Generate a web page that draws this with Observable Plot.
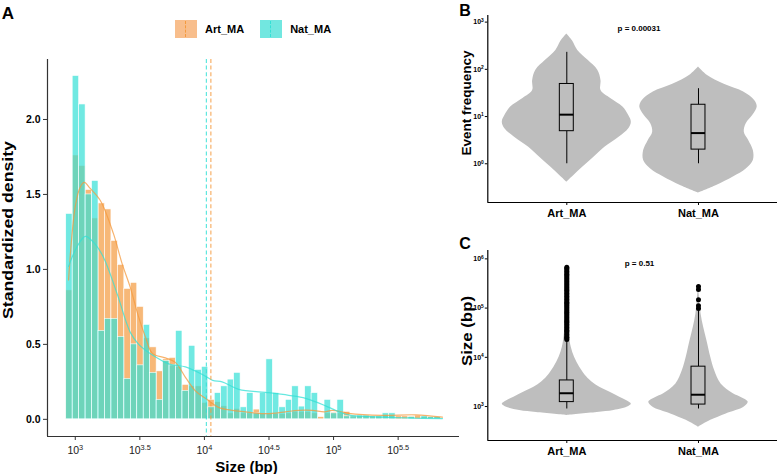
<!DOCTYPE html>
<html><head><meta charset="utf-8">
<script src="https://cdn.jsdelivr.net/npm/d3@7"></script>
<script src="https://cdn.jsdelivr.net/npm/@observablehq/plot@0.6"></script>
<style>
body{margin:0;background:#fff;font-family:"Liberation Sans",Arial,Helvetica,sans-serif;}
#fig{position:relative;width:777px;height:474px;overflow:hidden;background:#fff;}
#fig svg{position:absolute;overflow:visible;}
.lbl{position:absolute;font-weight:bold;color:#000;white-space:nowrap;line-height:1;}
.hc{transform:translate(-50%,-50%);}
#legend{position:absolute;left:175px;top:20px;display:flex;align-items:center;font-weight:bold;font-size:11px;}
.key{width:22px;height:18px;position:relative;margin-right:8px;}
.key i{position:absolute;left:10px;top:1px;height:16px;border-left:1px dashed;}
.item{display:flex;align-items:center;margin-right:16px;}
</style>
</head><body>
<div id="fig"></div>
<script>
// ---------- data ----------
const groups = ["Art_MA", "Nat_MA"];
const fills = ["#F49A3E", "#33E0D6"];
const keyFills = ["#F8BE8C", "#72E7E0"];

// Panel A: histogram (log10 size bins) of standardized density
const binStartLog = 2.93;
const binWidthLog = 0.05;
const artHist = [0.86,1.76,1.69,1.53,1.34,1.44,1.40,1.19,1.03,0.87,
  0.91,0.75,0.54,0.48,0.32,0.40,0.41,0.35,0.23,0.22,
  0.22,0.11,0.13,0.115,0.087,0.04,0.07,0.04,0.04,0.065,
  0.035,0.035,0.035,0.035,0.04,0.05,0.05,0.05,0.04,0.015,
  0.04,0.045,0.04,0.05,0.025,0.025,0.025,0.02,0.02,0.025,
  0.025,0.02,0.02,0.02,0.025,0.015,0.015,0.015];
const natHist = [1.37,2.29,2.10,1.50,1.59,0.59,0.67,0.67,0.55,0.27,
  0.50,0.36,0.63,0.31,0.13,0.39,0.36,0.59,0.19,0.49,
  0.33,0.35,0.08,0.175,0.22,0.265,0.31,0.08,0.175,0.04,
  0.175,0.40,0.175,0.08,0.13,0.22,0.085,0.22,0.175,0,
  0.13,0.04,0.13,0.02,0.02,0.025,0.025,0.02,0.02,0.04,
  0.04,0,0,0.015,0,0.02,0.015,0.015];
const artCurveLog = [2.948,3.000,3.039,3.070,3.116,3.194,3.295,3.362,3.426,3.488,3.543,3.597,3.698,3.775,3.853,3.930,4.008,4.109,4.215,4.318,4.419,4.525,4.628,4.729,4.835,4.930,4.990,5.116,5.378,5.636,5.843];
const artCurveDensity = [0.93,1.42,1.55,1.58,1.54,1.46,1.24,1.04,0.88,0.69,0.55,0.44,0.41,0.38,0.28,0.19,0.14,0.08,0.06,0.05,0.04,0.04,0.05,0.06,0.06,0.05,0.06,0.04,0.027,0.03,0.015];
const natCurveLog = [2.948,3.013,3.078,3.142,3.219,3.323,3.426,3.491,3.595,3.723,3.853,3.982,4.064,4.137,4.266,4.473,4.653,4.783,4.938,4.990,5.116,5.378,5.843];
const natCurveDensity = [1.02,1.15,1.22,1.18,1.08,0.84,0.58,0.50,0.43,0.37,0.35,0.30,0.26,0.25,0.20,0.18,0.16,0.14,0.09,0.07,0.03,0.015,0.005];
const meanLog = [4.05, 4.015];
const xTicksA = [3, 3.5, 4, 4.5, 5, 5.5];
const yTicksA = [0, 0.5, 1, 1.5, 2];

// Panel B: event frequency (log10) violins + boxes
const bArtViolinLog = [-0.39,-0.25,-0.07,0.14,0.35,0.56,0.74,0.88,1.02,1.20,1.38,1.55,1.76,1.98,2.19,2.40,2.60,2.75];
const bArtViolinW   = [0,0.11,0.25,0.42,0.59,0.81,0.96,1.0,0.96,0.87,0.68,0.53,0.53,0.48,0.33,0.17,0.09,0];
const bNatViolinLog = [-0.62,-0.46,-0.28,-0.11,0.07,0.28,0.49,0.67,0.85,1.02,1.20,1.34,1.52,1.69,1.87,2.05];
const bNatViolinW   = [0,0.28,0.54,0.74,0.85,0.85,0.78,0.71,0.74,0.84,0.91,0.87,0.70,0.39,0.14,0];
const bLow = [0, 0], bQ1 = [0.69, 0.30], bMed = [1.04, 0.65], bQ3 = [1.69, 1.25], bHigh = [2.36, 1.59];
const yTicksB = [0, 1, 2, 3];
const pB = "p = 0.00031";

// Panel C: size (log10 bp) violins + boxes + outliers
const cArtViolinLog = [2.82,2.88,2.92,3.0,3.05,3.12,3.19,3.29,3.39,3.5,3.6,3.8,4.0,4.2,4.45,4.8,5.3,5.85];
const cArtViolinW   = [0,0.47,0.73,0.96,1.0,0.93,0.82,0.67,0.51,0.39,0.31,0.2,0.12,0.07,0.04,0.023,0.019,0];
const cNatViolinLog = [2.58,2.72,2.85,2.99,3.09,3.18,3.26,3.46,3.73,4.0,4.34,4.61,4.88,5.15,5.44];
const cNatViolinW   = [0,0.19,0.43,0.71,0.77,0.67,0.54,0.35,0.25,0.19,0.13,0.08,0.04,0.02,0];
const cLow = [2.95, 2.95], cQ1 = [3.09, 3.04], cMed = [3.27, 3.24], cQ3 = [3.53, 3.81], cHigh = [4.34, 4.97];
const cArtOutliers = [4.36,4.39,4.41,4.44,4.47,4.50,4.53,4.55,4.58,4.61,4.64,4.67,4.70,4.72,4.75,4.78,4.81,4.84,4.87,4.90,4.92,4.95,4.98,5.01,5.04,5.07,5.10,5.12,5.15,5.18,5.21,5.24,5.27,5.30,5.33,5.36,5.39,5.42,5.45,5.48,5.51,5.54,5.57,5.60,5.63,5.66,5.69,5.72,5.75,5.78,5.81,5.83];
const cNatOutliers = [4.99, 5.05, 5.17, 5.38, 5.44];
const yTicksC = [3, 4, 5, 6];
const pC = "p = 0.51";

// ---------- helpers ----------
const FONT = "Liberation Sans, Arial, Helvetica, sans-serif";
const fig = document.getElementById("fig");
function supify(svg) {
  d3.select(svg).selectAll("text").each(function () {
    const m = /^10\^(.+)$/.exec(this.textContent);
    if (m) {
      const el = d3.select(this);
      el.text("10");
      el.append("tspan").attr("dy", "-0.5em").attr("font-size", "0.7em").text(m[1]);
    }
  });
}
function place(svg, left, top) {
  svg.style.left = left + "px";
  svg.style.top = top + "px";
  supify(svg);
  fig.appendChild(svg);
}
function label(text, x, y, size, rotated, stretch) {
  const d = document.createElement("div");
  d.className = "lbl";
  d.style.left = x + "px"; d.style.top = y + "px"; d.style.fontSize = size + "px";
  d.style.transform = rotated
    ? `translate(-50%,-50%) rotate(-90deg) scaleX(${stretch || 1})`
    : "translate(-50%,-50%)";
  d.textContent = text;
  fig.appendChild(d);
}

// ---------- Panel A ----------
const histData = [];
artHist.forEach((v, i) => histData.push({group: groups[0], x1: binStartLog + i * binWidthLog, x2: binStartLog + (i + 1) * binWidthLog, v}));
natHist.forEach((v, i) => histData.push({group: groups[1], x1: binStartLog + i * binWidthLog, x2: binStartLog + (i + 1) * binWidthLog, v}));
const curves = [
  ...artCurveLog.map((x, i) => ({group: groups[0], x, y: artCurveDensity[i]})),
  ...natCurveLog.map((x, i) => ({group: groups[1], x, y: natCurveDensity[i]}))
];
const means = groups.map((g, i) => ({group: g, x: meanLog[i]}));
const xA = [2.785, 5.975], yA = [-0.1145, 2.40];

const plotA = Plot.plot({
  width: 460, height: 474,
  marginLeft: 47, marginRight: 1, marginTop: 59, marginBottom: 38,
  style: {fontFamily: FONT, color: "#000", background: "transparent"},
  x: {domain: xA},
  y: {domain: yA},
  color: {domain: groups, range: fills},
  marks: [
    Plot.rect(histData.filter(d => d.group === groups[0]), {x1: "x1", x2: "x2", y1: d => 0, y2: "v", fill: "group", fillOpacity: 0.7, stroke: "white", strokeWidth: 0.6}),
    Plot.rect(histData.filter(d => d.group === groups[1]), {x1: "x1", x2: "x2", y1: d => 0, y2: "v", fill: "group", fillOpacity: 0.7, stroke: "white", strokeWidth: 0.6}),
    Plot.line(curves, {x: "x", y: "y", z: "group", stroke: "group", strokeOpacity: 0.75, strokeWidth: 1.2, curve: "catmull-rom"}),
    Plot.ruleX(means, {x: "x", stroke: "group", strokeOpacity: 0.85, strokeDasharray: "4,2.6", strokeWidth: 1.1}),
    Plot.ruleX([xA[0]], {stroke: "#333", strokeWidth: 1.2}),
    Plot.ruleY([yA[0]], {stroke: "#333", strokeWidth: 1.2}),
    Plot.axisY({ticks: yTicksA, tickFormat: d => d.toFixed(1), tickSize: 4, tickPadding: 3, fontSize: 10.5, fontWeight: "bold", label: null, stroke: "#333"}),
    Plot.axisX({ticks: xTicksA, tickFormat: d => "10^" + d, tickSize: 4, tickPadding: 6, fontSize: 10.5, label: null, stroke: "#333", fill: "#1a1a1a"})
  ]
});
place(plotA, 0, 0);

// ---------- Panel B / C shared ----------
const halfMax = 0.49;   // max violin half-width in category units
const boxHalf = 0.053;  // box half-width in category units
function violinPanel(opts) {
  const vData = [
    ...opts.artLog.map((y, i) => ({pos: 1, y, w: opts.artW[i]})),
    ...opts.natLog.map((y, i) => ({pos: 2, y, w: opts.natW[i]}))
  ];
  const boxes = groups.map((g, i) => ({pos: i + 1, lo: opts.lo[i], q1: opts.q1[i], med: opts.med[i], q3: opts.q3[i], hi: opts.hi[i]}));
  const marks = [
    Plot.areaX(vData, {y: "y", x1: d => d.pos - d.w * halfMax, x2: d => d.pos + d.w * halfMax, z: "pos", fill: "#BEBEBE", curve: "catmull-rom"}),
    Plot.ruleX(boxes, {x: "pos", y1: "lo", y2: "q1", stroke: "#000", strokeWidth: 1}),
    Plot.ruleX(boxes, {x: "pos", y1: "q3", y2: "hi", stroke: "#000", strokeWidth: 1}),
    Plot.rect(boxes, {x1: d => d.pos - boxHalf, x2: d => d.pos + boxHalf, y1: "q1", y2: "q3", fill: "#BEBEBE", stroke: "#000", strokeWidth: 1}),
    Plot.ruleY(boxes, {y: "med", x1: d => d.pos - boxHalf, x2: d => d.pos + boxHalf, stroke: "#000", strokeWidth: 2})
  ];
  if (opts.outliers) marks.push(Plot.dot(opts.outliers, {x: "pos", y: "y", r: 2.5, fill: "#000", stroke: "none"}));
  marks.push(
    Plot.text([opts.p], {x: opts.pPos[0], y: opts.pPos[1], text: d => d, fontSize: 8, fontWeight: "bold"}),
    Plot.ruleX([0.4], {stroke: "#000", strokeWidth: 1.2}),
    Plot.ruleY([opts.yDomain[0]], {stroke: "#000", strokeWidth: 1.2}),
    Plot.axisY({ticks: opts.yTicks, tickFormat: d => "10^" + d, tickSize: 2.5, tickPadding: 1.5, fontSize: 7, fontWeight: "bold", label: null}),
    Plot.axisX({ticks: [1, 2], tickFormat: d => groups[d - 1], tickSize: 3, tickPadding: 4, fontSize: 11, fontWeight: "bold", label: null})
  );
  return Plot.plot({
    width: 327, height: opts.height,
    marginLeft: 37.3, marginRight: 0, marginTop: opts.mt, marginBottom: opts.mb,
    style: {fontFamily: FONT, color: "#000", background: "transparent"},
    x: {domain: [0.4, 2.6]},
    y: {domain: opts.yDomain},
    marks
  });
}

const plotB = violinPanel({
  artLog: bArtViolinLog, artW: bArtViolinW, natLog: bNatViolinLog, natW: bNatViolinW,
  lo: bLow, q1: bQ1, med: bMed, q3: bQ3, hi: bHigh,
  yDomain: [-0.82, 3.14], yTicks: yTicksB, p: pB, pPos: [1.548, 2.856],
  height: 225, mt: 15, mb: 23
});
place(plotB, 450, 0);

const outC = [
  ...cArtOutliers.map(y => ({pos: 1, y})),
  ...cNatOutliers.map(y => ({pos: 2, y}))
];
const plotC = violinPanel({
  artLog: cArtViolinLog, artW: cArtViolinW, natLog: cNatViolinLog, natW: cNatViolinW,
  lo: cLow, q1: cQ1, med: cMed, q3: cQ3, hi: cHigh, outliers: outC,
  yDomain: [2.31, 6.17], yTicks: yTicksC, p: pC, pPos: [1.552, 5.906],
  height: 249, mt: 25, mb: 34
});
place(plotC, 450, 225);

// ---------- titles, panel letters, legend ----------
label("A", 8, 13, 17, false);
label("B", 465, 11, 16, false);
label("C", 465, 244, 16, false);
label("Standardized density", 8.3, 230, 14.5, true, 1.22);
label("Size (bp)", 246.5, 465.5, 15, false);
label("Event frequency", 467, 102.5, 13.5, true, 1);
label("Size (bp)", 467, 331, 14, true, 1.2);

const legend = document.createElement("div");
legend.id = "legend";
groups.forEach((g, i) => {
  const item = document.createElement("div");
  item.className = "item";
  const key = document.createElement("div");
  key.className = "key";
  key.style.background = keyFills[i];
  const dash = document.createElement("i");
  dash.style.borderColor = fills[i];
  key.appendChild(dash);
  const t = document.createElement("span");
  t.textContent = g;
  item.appendChild(key); item.appendChild(t);
  legend.appendChild(item);
});
fig.appendChild(legend);
</script>
</body></html>
